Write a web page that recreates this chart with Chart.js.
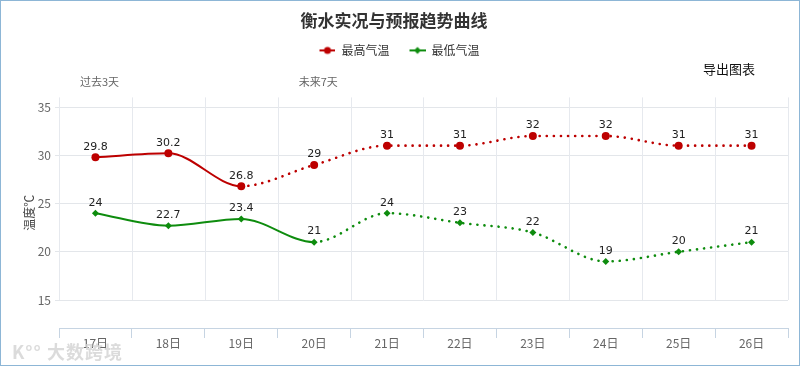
<!DOCTYPE html>
<html>
<head>
<meta charset="utf-8">
<script src="https://cdn.jsdelivr.net/npm/chart.js@4.4.0/dist/chart.umd.min.js"></script>
<style>
    body { margin: 0; background: #fff; font-family: "Noto Sans CJK SC", sans-serif; }
    #wrap { position: relative; width: 802px; height: 368px; }
    #frame { position: absolute; left: 0; top: 0; width: 798px; height: 364px; border: 1px solid #8db6d6; pointer-events: none; }
    #exportBtn { position: absolute; left: 703px; top: 59px; font-size: 13px; color: #111; }
    #mark { position: absolute; left: 12px; top: 338px; font-size: 18px; font-weight: bold; color: rgba(215,215,215,0.9); letter-spacing: 1px; }
</style>
</head>
<body>
<div id="wrap">
    <canvas id="tempChart" width="802" height="368"></canvas>
    <div id="frame"></div>
    <div id="exportBtn">导出图表</div>
    <div id="mark">K°° 大数跨境</div>
</div>
<script>
const days = ['17日', '18日', '19日', '20日', '21日', '22日', '23日', '24日', '25日', '26日'];
const highTemps = [29.8, 30.2, 26.8, 29, 31, 31, 32, 32, 31, 31];
const lowTemps = [24, 22.7, 23.4, 21, 24, 23, 22, 19, 20, 21];
const yTicks = [15, 20, 25, 30, 35];
const periodLabels = [{ index: 0, text: '过去3天' }, { index: 3, text: '未来7天' }];

const RED = '#bd0000';
const GREEN = '#0e8c0e';
const FONT = '"Noto Sans CJK SC", "Noto Sans", sans-serif';

// legend marker: short line with the point symbol on it
function legendIcon(color, shape) {
    let c = document.createElement('canvas');
    c.width = 27;
    c.height = 10;
    let ctx = c.getContext('2d');
    ctx.strokeStyle = color;
    ctx.fillStyle = color;
    ctx.lineWidth = 2;
    ctx.beginPath();
    ctx.moveTo(11, 5);
    ctx.lineTo(27, 5);
    ctx.stroke();
    ctx.beginPath();
    if (shape === 'circle') {
        ctx.arc(19, 5, 3.5, 0, Math.PI * 2);
    } else {
        ctx.moveTo(19, 1.5);
        ctx.lineTo(22.5, 5);
        ctx.lineTo(19, 8.5);
        ctx.lineTo(15.5, 5);
        ctx.closePath();
    }
    ctx.fill();
    return c;
}

const layoutFix = {
    id: 'layoutFix',
    beforeInit(chart) {
        const fit = chart.legend.fit;
        chart.legend.fit = function () {
            fit.call(this);
            this.height = 62;
        };
    }
};

const vGrid = {
    id: 'vGrid',
    beforeDatasetsDraw(chart) {
        const x = chart.scales.x;
        const y = chart.scales.y;
        const ctx = chart.ctx;
        const step = x.getPixelForValue(1) - x.getPixelForValue(0);
        const bottom = y.getPixelForValue(15);
        ctx.save();
        ctx.strokeStyle = '#e6e9ee';
        ctx.lineWidth = 1;
        for (let i = 0; i <= days.length; i++) {
            let px = Math.round(x.getPixelForValue(0) - step / 2 + i * step) + 0.5;
            ctx.beginPath();
            ctx.moveTo(px, chart.chartArea.top);
            ctx.lineTo(px, bottom);
            ctx.stroke();
        }
        // period labels above the plot
        ctx.font = '11px ' + FONT;
        ctx.fillStyle = '#666';
        ctx.textAlign = 'left';
        ctx.textBaseline = 'middle';
        periodLabels.forEach(p => {
            ctx.fillText(p.text, x.getPixelForValue(p.index) - step / 2 + 21, 82);
        });
        ctx.restore();
    }
};

const pointLabels = {
    id: 'pointLabels',
    afterDatasetsDraw(chart) {
        const ctx = chart.ctx;
        ctx.save();
        ctx.font = '11px "DejaVu Sans", sans-serif';
        ctx.fillStyle = '#222';
        ctx.textAlign = 'center';
        ctx.textBaseline = 'bottom';
        chart.data.datasets.forEach((ds, di) => {
            chart.getDatasetMeta(di).data.forEach((pt, i) => {
                ctx.fillText(String(ds.data[i]), pt.x, pt.y - 5);
            });
        });
        ctx.restore();
    }
};

new Chart(document.getElementById('tempChart').getContext('2d'), {
    type: 'line',
    data: {
        labels: days,
        datasets: [
            {
                label: '最高气温',
                data: highTemps,
                borderColor: RED,
                backgroundColor: RED,
                borderWidth: 2,
                cubicInterpolationMode: 'monotone',
                fill: false,
                pointStyle: 'circle',
                pointRadius: 4,
                pointBorderWidth: 0,
                segment: {
                    borderDash: ctx => ctx.p0DataIndex >= 2 ? [0.1, 7] : undefined,
                    borderWidth: ctx => ctx.p0DataIndex >= 2 ? 2.6 : 2
                },
                borderCapStyle: 'round'
            },
            {
                label: '最低气温',
                data: lowTemps,
                borderColor: GREEN,
                backgroundColor: GREEN,
                borderWidth: 2,
                cubicInterpolationMode: 'monotone',
                fill: false,
                pointStyle: 'rectRot',
                pointRadius: 3.5,
                pointBorderWidth: 0,
                segment: {
                    borderDash: ctx => ctx.p0DataIndex >= 3 ? [0.1, 7] : undefined,
                    borderWidth: ctx => ctx.p0DataIndex >= 3 ? 2.6 : 2
                },
                borderCapStyle: 'round'
            }
        ]
    },
    options: {
        responsive: false,
        animation: false,
        layout: { padding: { left: 0, right: 14, top: 0, bottom: 10 } },
        plugins: {
            title: {
                display: true,
                text: '衡水实况与预报趋势曲线',
                color: '#333',
                font: { family: FONT, size: 17, weight: 'bold' },
                padding: { top: 10, bottom: 5 }
            },
            legend: {
                labels: {
                    usePointStyle: true,
                    pointStyleWidth: 27,
                    boxHeight: 10,
                    padding: 9,
                    color: '#333',
                    font: { family: FONT, size: 12 },
                    generateLabels: chart => chart.data.datasets.map((ds, i) => ({
                        text: ds.label,
                        pointStyle: legendIcon(ds.borderColor, i === 0 ? 'circle' : 'diamond'),
                        fillStyle: ds.borderColor,
                        strokeStyle: ds.borderColor,
                        lineWidth: 0,
                        fontColor: '#333',
                        datasetIndex: i
                    }))
                }
            },
            tooltip: { enabled: false }
        },
        scales: {
            x: {
                offset: true,
                grid: {
                    offset: true,
                    drawOnChartArea: false,
                    drawTicks: true,
                    tickLength: 10,
                    color: '#c6d4e2'
                },
                border: { display: true, color: '#c6d4e2' },
                ticks: {
                    color: '#666',
                    font: { family: FONT, size: 12 },
                    padding: -2,
                    maxRotation: 0
                },
                afterFit: scale => { scale.height = 30; }
            },
            y: {
                min: 12.1,
                max: 36,
                afterBuildTicks: scale => { scale.ticks = yTicks.map(v => ({ value: v })); },
                grid: {
                    color: '#e3e6ea',
                    drawTicks: true,
                    tickLength: 4
                },
                border: { display: false },
                ticks: {
                    color: '#666',
                    font: { family: FONT, size: 12 },
                    padding: 4
                },
                title: {
                    display: true,
                    text: '温度℃',
                    color: '#444',
                    font: { family: FONT, size: 12 },
                    padding: { top: 22, bottom: 0 }
                },
                afterFit: scale => { scale.width = 59; }
            }
        }
    },
    plugins: [layoutFix, vGrid, pointLabels]
});
</script>
</body>
</html>
